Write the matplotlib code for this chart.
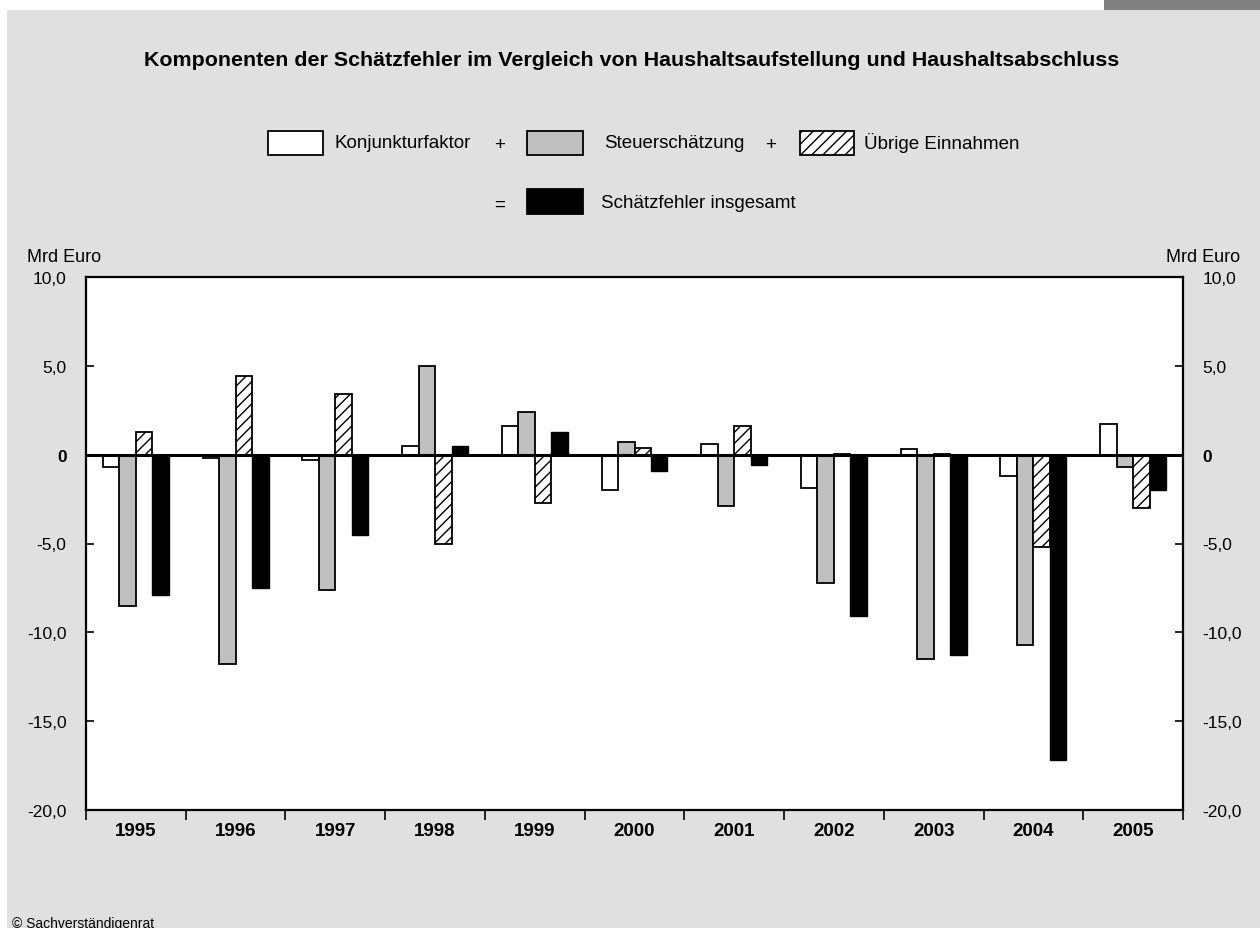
import matplotlib
matplotlib.use("Agg")
import matplotlib.pyplot as plt
from matplotlib.patches import Rectangle
import numpy as np

plt.rcParams['font.family'] = ['Liberation Sans', 'DejaVu Sans']
plt.rcParams['hatch.linewidth'] = 1.0

years = ['1995', '1996', '1997', '1998', '1999', '2000', '2001', '2002', '2003', '2004', '2005']
konjunktur = [-0.7, -0.2, -0.3, 0.5, 1.6, -2.0, 0.6, -1.9, 0.3, -1.2, 1.7]
steuer = [-8.5, -11.8, -7.6, 5.0, 2.4, 0.7, -2.9, -7.2, -11.5, -10.7, -0.7]
uebrige = [1.3, 4.4, 3.4, -5.0, -2.7, 0.4, 1.6, 0.05, 0.05, -5.2, -3.0]
gesamt = [-7.9, -7.5, -4.5, 0.5, 1.3, -0.9, -0.6, -9.1, -11.3, -17.2, -2.0]

yticks = [10, 5, 0, -5, -10, -15, -20]
ylabels = ['10,0', '5,0', '0', '-5,0', '-10,0', '-15,0', '-20,0']

panel = '#e0e0e0'
gray = '#c0c0c0'

fig = plt.figure(figsize=(12.6, 9.29), dpi=100)
fig.patch.set_facecolor('white')
fig.patches.append(Rectangle((7 / 1260, 0), 1 - 7 / 1260, 1 - 11 / 929,
                             transform=fig.transFigure, facecolor=panel,
                             edgecolor='none', zorder=-2))
fig.patches.append(Rectangle((1104 / 1260, 1 - 11 / 929), 1 - 1104 / 1260, 11 / 929,
                             transform=fig.transFigure, facecolor='#808080',
                             edgecolor='none', zorder=-2))

ax = fig.add_axes([86 / 1260, 1 - 811 / 929, 1097 / 1260, 533 / 929])
ax.set_facecolor('white')

x = np.arange(len(years)) + 0.5
w = 0.165
ax.bar(x - 1.5 * w, konjunktur, w, color='white', edgecolor='black', linewidth=1.3, zorder=2)
ax.bar(x - 0.5 * w, steuer, w, color=gray, edgecolor='black', linewidth=1.3, zorder=2)
ax.bar(x + 0.5 * w, uebrige, w, color='white', edgecolor='black', linewidth=1.3,
       hatch='///', zorder=2)
ax.bar(x + 1.5 * w, gesamt, w, color='black', edgecolor='black', linewidth=1.0, zorder=2)

ax.axhline(0, color='black', linewidth=2.2, zorder=3)

ax.set_xlim(0, len(years))
ax.set_ylim(-20, 10)

for s in ax.spines.values():
    s.set_linewidth(1.6)

# y axis: labels on both sides, ticks pointing inward
ax.set_yticks(yticks)
ax.set_yticklabels(ylabels)
ax.tick_params(axis='y', which='major', direction='in', length=6, width=1.2,
               left=True, right=True, labelleft=True, labelright=True,
               labelsize=12.5, pad=14)
for t in ax.yaxis.get_major_ticks():
    if t.label1.get_text() == '0':
        t.label1.set_fontweight('bold')
        t.label2.set_fontweight('bold')

# x axis: ticks at group boundaries, year labels at group centres
ax.set_xticks(np.arange(len(years) + 1))
ax.set_xticklabels([])
ax.tick_params(axis='x', which='major', direction='out', length=7, width=1.2)
ax.set_xticks(x, minor=True)
ax.set_xticklabels(years, minor=True, fontweight='bold', fontsize=13.5)
ax.tick_params(axis='x', which='minor', length=0, pad=9)

fig.text(27 / 1260, 1 - 258 / 929, 'Mrd Euro', fontsize=13, ha='left', va='center')
fig.text(1240 / 1260, 1 - 258 / 929, 'Mrd Euro', fontsize=13, ha='right', va='center')

fig.text(632 / 1260, 1 - 61 / 929,
         'Komponenten der Schätzfehler im Vergleich von Haushaltsaufstellung und Haushaltsabschluss',
         fontsize=15.4, fontweight='bold', ha='center', va='center')

# legend drawn by hand
def legend_box(x0, x1, y0, y1, **kw):
    fig.patches.append(Rectangle((x0 / 1260, 1 - y1 / 929), (x1 - x0) / 1260, (y1 - y0) / 929,
                                 transform=fig.transFigure, edgecolor='black',
                                 linewidth=1.3, zorder=3, **kw))

def legend_text(xp, yp, s, ha='left'):
    fig.text(xp / 1260, 1 - yp / 929, s, fontsize=13.5, ha=ha, va='center')

legend_box(268, 323, 132, 156, facecolor='white')
legend_text(334, 143, 'Konjunkturfaktor')
legend_text(500, 145, '+', ha='center')
legend_box(527, 583, 132, 156, facecolor=gray)
legend_text(604, 143, 'Steuerschätzung')
legend_text(771, 145, '+', ha='center')
legend_box(800, 854, 132, 156, facecolor='white', hatch='///')
legend_text(864, 143, 'Übrige Einnahmen')
legend_text(500, 205, '=', ha='center')
legend_box(527, 583, 190, 215, facecolor='black')
legend_text(601, 204, 'Schätzfehler insgesamt')

fig.text(12 / 1260, 1 - 917 / 929, '© Sachverständigenrat', fontsize=10,
         ha='left', va='top')

fig.savefig('out.png', dpi=100, facecolor=fig.get_facecolor())
